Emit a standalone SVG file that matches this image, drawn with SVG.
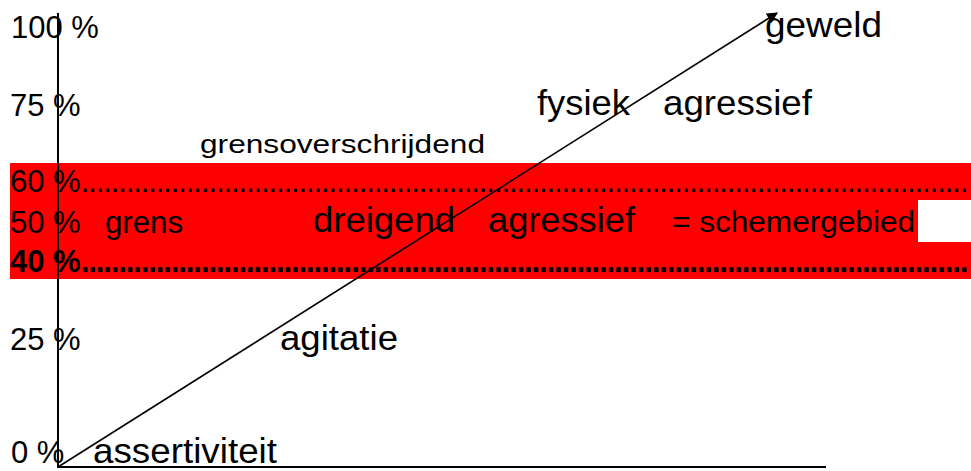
<svg xmlns="http://www.w3.org/2000/svg" width="971" height="471" viewBox="0 0 971 471">
  <defs>
    <marker id="head" viewBox="0 0 10 10" refX="9" refY="5" markerWidth="11" markerHeight="11" markerUnits="userSpaceOnUse" orient="auto">
      <path d="M0,0 L10,5 L0,10 z" fill="#000"/>
    </marker>
    <style>
      text { font-family: "Liberation Sans", Arial, sans-serif; fill: #000; }
      .pct { font-size: 31px; }
      .big { font-size: 35px; }
      .dots { letter-spacing: -1.1px; }
      .axis { stroke: #000; stroke-width: 2; fill: none; }
      .conn { stroke: #000; stroke-width: 1.6; fill: none; }
    </style>
  </defs>

  <rect width="971" height="471" fill="#fff"/>

  <!-- grey zone band between 40 % and 60 % -->
  <g id="band">
    <rect x="10" y="163" width="961" height="116" fill="#ff0000"/>
    <rect x="918" y="200" width="53" height="42" fill="#fff"/>
  </g>

  <!-- axes -->
  <g id="axes">
    <line class="axis" x1="58" y1="13" x2="58" y2="468"/>
    <line class="axis" x1="57" y1="467" x2="826" y2="467"/>
  </g>

  <!-- scale labels -->
  <g id="scale">
    <text class="pct" x="11" y="38">100 %</text>
    <text class="pct" x="10" y="116">75 %</text>
    <text class="pct" x="10" y="192">60 %<tspan class="dots">......................................................................................................................</tspan></text>
    <text class="pct" x="10" y="233">50 %</text>
    <text class="pct" x="10" y="272" font-weight="bold">40 %<tspan class="dots">......................................................................................................................</tspan></text>
    <text class="pct" x="10" y="350">25 %</text>
    <text class="pct" x="11" y="463">0 %</text>
  </g>

  <!-- escalation stages -->
  <g id="stage-geweld"><text class="big" x="765" y="37" textLength="117" lengthAdjust="spacingAndGlyphs">geweld</text></g>
  <g id="stage-fysiek">
    <text class="big" x="537" y="115" textLength="93" lengthAdjust="spacingAndGlyphs">fysiek</text>
    <text class="big" x="663" y="115" textLength="149" lengthAdjust="spacingAndGlyphs">agressief</text>
  </g>
  <g id="stage-grensoverschrijdend"><text x="200" y="153" font-size="25" textLength="285" lengthAdjust="spacingAndGlyphs">grensoverschrijdend</text></g>
  <g id="stage-grens"><text class="pct" x="105" y="233" textLength="78" lengthAdjust="spacingAndGlyphs">grens</text></g>
  <g id="stage-dreigend">
    <text class="big" x="313" y="232" textLength="142" lengthAdjust="spacingAndGlyphs">dreigend</text>
    <text class="big" x="488" y="232" textLength="147" lengthAdjust="spacingAndGlyphs">agressief</text>
  </g>
  <g id="stage-schemergebied"><text x="672" y="232" font-size="30" textLength="243" lengthAdjust="spacingAndGlyphs">= schemergebied</text></g>
  <g id="stage-agitatie"><text class="big" x="280" y="350" textLength="118" lengthAdjust="spacingAndGlyphs">agitatie</text></g>
  <g id="stage-assertiviteit"><text class="big" x="93" y="463" textLength="184" lengthAdjust="spacingAndGlyphs">assertiviteit</text></g>

  <!-- escalation arrow -->
  <g id="connectors">
    <line class="conn" x1="58" y1="467" x2="777" y2="13" marker-end="url(#head)"/>
  </g>
</svg>
